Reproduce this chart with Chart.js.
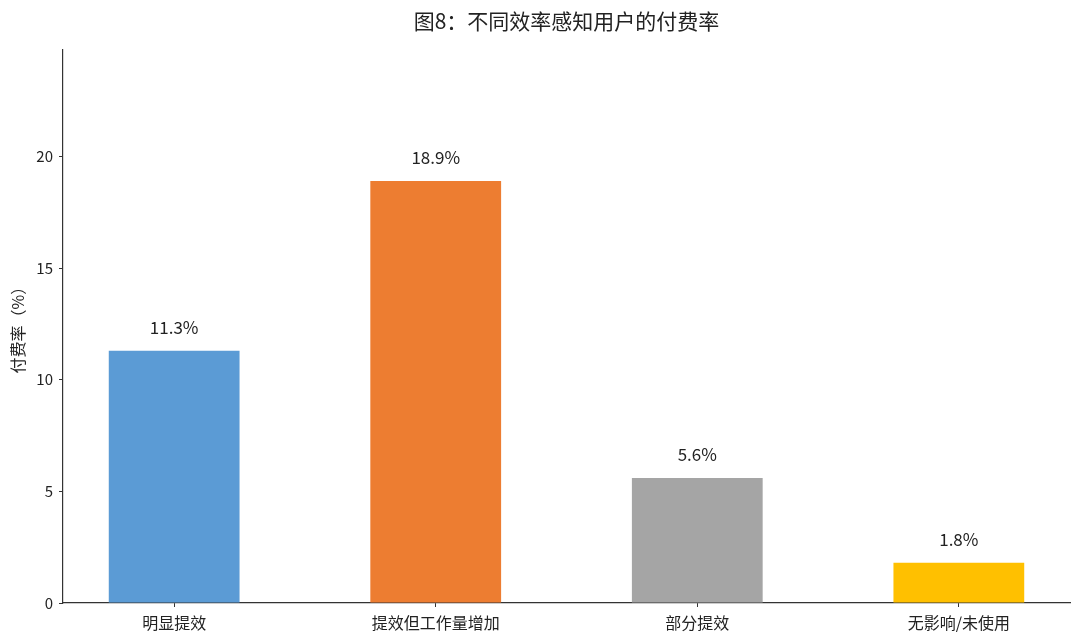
<!DOCTYPE html>
<html>
<head>
<meta charset="utf-8">
<script src="https://cdn.jsdelivr.net/npm/chart.js@4/dist/chart.umd.min.js"></script>
<style>
  html, body { margin: 0; padding: 0; background: #fff; }
  #wrap { width: 1080px; height: 644px; }
</style>
</head>
<body>
<div id="wrap"><canvas id="chart"></canvas></div>
<script>
const CATEGORIES = ["明显提效", "提效但工作量增加", "部分提效", "无影响/未使用"];
const PAY_RATES = [11.3, 18.9, 5.6, 1.8];
const BAR_COLORS = ["#5B9BD5", "#ED7D31", "#A5A5A5", "#FFC000"];
const Y_TICKS = [0, 5, 10, 15, 20];

const FONT = '"Noto Sans CJK SC", "Noto Sans", sans-serif';
const AXIS = "#333333";

// Value labels above each bar, e.g. "18.9%".
const barLabels = {
  id: "barLabels",
  afterDatasetsDraw(chart) {
    const { ctx } = chart;
    const meta = chart.getDatasetMeta(0);
    ctx.save();
    ctx.font = `17px ${FONT}`;
    ctx.fillStyle = "#222";
    ctx.textAlign = "center";
    ctx.textBaseline = "middle";
    meta.data.forEach((bar, i) => {
      ctx.fillText(`${PAY_RATES[i]}%`, bar.x, bar.y - 23);
    });
    ctx.restore();
  },
};

new Chart(document.getElementById("chart"), {
  type: "bar",
  data: {
    datasets: [{
      data: PAY_RATES.map((v, i) => ({ x: i, y: v })),
      backgroundColor: BAR_COLORS,
      categoryPercentage: 1,
      barPercentage: 0.5,
    }],
  },
  options: {
    responsive: true,
    maintainAspectRatio: false,
    animation: false,
    layout: { padding: { top: 0, left: 0, right: 10, bottom: 0 } },
    plugins: {
      legend: { display: false },
      tooltip: { enabled: false },
      title: {
        display: true,
        fullSize: false, // center over the plot area, not the canvas
        text: "图8：不同效率感知用户的付费率",
        color: "#222",
        font: { family: FONT, size: 21, weight: "normal" },
        padding: { top: 8, bottom: 16 },
      },
    },
    scales: {
      x: {
        type: "linear",
        offset: false,
        min: -0.425,
        max: 3.425,
        afterBuildTicks: (scale) => { scale.ticks = CATEGORIES.map((_, i) => ({ value: i })); },
        afterFit: (scale) => { scale.height = 41; },
        ticks: {
          callback: (v) => CATEGORIES[v],
          color: "#222",
          font: { family: FONT, size: 16 },
          padding: 6,
          maxRotation: 0,
        },
        grid: { display: true, offset: false, drawOnChartArea: false, drawTicks: true, tickLength: 4, color: AXIS },
        border: { display: true, color: AXIS, width: 1.2 },
      },
      y: {
        min: 0,
        max: 24.8,
        afterBuildTicks: (scale) => { scale.ticks = Y_TICKS.map((v) => ({ value: v })); },
        afterFit: (scale) => { scale.width = 63; },
        ticks: {
          color: "#222",
          font: { family: FONT, size: 15 },
          padding: 6,
        },
        title: {
          display: true,
          text: "付费率（%）",
          color: "#222",
          font: { family: FONT, size: 16 },
          padding: { top: 8, bottom: 0 },
        },
        grid: { display: true, drawOnChartArea: false, drawTicks: true, tickLength: 4, color: AXIS },
        border: { display: true, color: AXIS, width: 1.2 },
      },
    },
  },
  plugins: [barLabels],
});
</script>
</body>
</html>
